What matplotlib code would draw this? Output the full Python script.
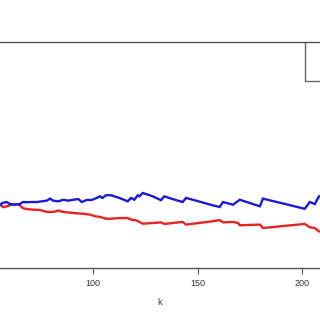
import matplotlib
matplotlib.use("Agg")
import matplotlib.pyplot as plt
from matplotlib.patches import Rectangle

plt.rcParams['font.family'] = ['Liberation Sans', 'DejaVu Sans']

# values (k index, y in arbitrary units)
k_blue = [55.5, 56.8, 58.7, 60.3, 62.7, 65.1, 66.4, 68.3, 70.7, 73.1,
          75.5, 77.9, 79.4, 81.0, 83.4, 85.8, 88.2, 90.6, 93.0, 94.6,
          97.0, 99.4, 101.8, 103.4, 104.5, 106.2, 108.6, 112.6, 116.6, 118.2,
          119.8, 121.4, 122.2, 123.8, 128.6, 132.5, 134.1, 138.1, 142.9, 144.5,
          149.3, 157.4, 160.6, 162.2, 167.0, 170.2, 179.8, 181.3, 201.3, 203.7,
          206.1, 208.1]
blue = [0.280, 0.288, 0.292, 0.283, 0.280, 0.283, 0.292, 0.291, 0.292, 0.292,
        0.295, 0.298, 0.307, 0.298, 0.295, 0.302, 0.298, 0.302, 0.305, 0.292,
        0.301, 0.301, 0.310, 0.317, 0.310, 0.322, 0.322, 0.310, 0.295, 0.310,
        0.302, 0.322, 0.317, 0.332, 0.317, 0.300, 0.317, 0.305, 0.292, 0.310,
        0.298, 0.277, 0.270, 0.292, 0.280, 0.302, 0.273, 0.307, 0.262, 0.292,
        0.283, 0.317]

k_red = [55.5, 57.1, 58.7, 61.1, 63.5, 65.1, 66.4, 68.3, 71.4, 74.6,
         77.9, 81.0, 83.4, 85.8, 89.0, 92.2, 95.4, 98.6, 101.0, 103.4,
         106.2, 108.6, 112.6, 116.6, 118.2, 120.6, 122.2, 123.8, 128.6, 132.5,
         134.1, 138.1, 142.9, 144.5, 157.3, 160.6, 162.2, 167.0, 169.4, 170.2,
         179.8, 181.3, 201.3, 203.7, 206.1, 208.1]
red = [0.280, 0.269, 0.273, 0.280, 0.283, 0.277, 0.265, 0.261, 0.258, 0.257,
       0.248, 0.248, 0.254, 0.248, 0.245, 0.242, 0.240, 0.236, 0.229, 0.226,
       0.218, 0.218, 0.221, 0.221, 0.214, 0.211, 0.204, 0.196, 0.199, 0.202,
       0.195, 0.199, 0.204, 0.192, 0.207, 0.212, 0.202, 0.204, 0.199, 0.189,
       0.192, 0.177, 0.195, 0.180, 0.177, 0.162]

xticks = [100, 150, 200]

fig = plt.figure(figsize=(3.2, 3.2), dpi=100)
ax = fig.add_axes([0.0, 0.1625, 1.0, 0.70625])

ax.plot(k_red, red, color='#e82222', lw=1.7, solid_joinstyle='miter')
ax.plot(k_blue, blue, color='#1a1ad6', lw=1.7, solid_joinstyle='miter')

# legend box (its contents sit outside the visible crop)
ax.add_patch(Rectangle((201.4, 0.827), 60, 0.3, facecolor='none',
                       edgecolor='#666666', lw=1.0))

ax.set_xlim(55.5, 208.6)
ax.set_ylim(0, 1)
ax.set_xticks(xticks)
ax.set_xticklabels([str(t) for t in xticks], fontsize=6.5, color='#333333')
ax.set_yticks([])
ax.tick_params(axis='x', direction='out', length=4, width=0.8,
               color='#555555', pad=4)
ax.set_xlabel('k', fontsize=6.5, color='#333333', labelpad=7)
for s in ['left', 'right']:
    ax.spines[s].set_visible(False)
for s in ['top', 'bottom']:
    ax.spines[s].set_color('#555555')
    ax.spines[s].set_linewidth(1.0)

fig.savefig('out.png', dpi=100)
